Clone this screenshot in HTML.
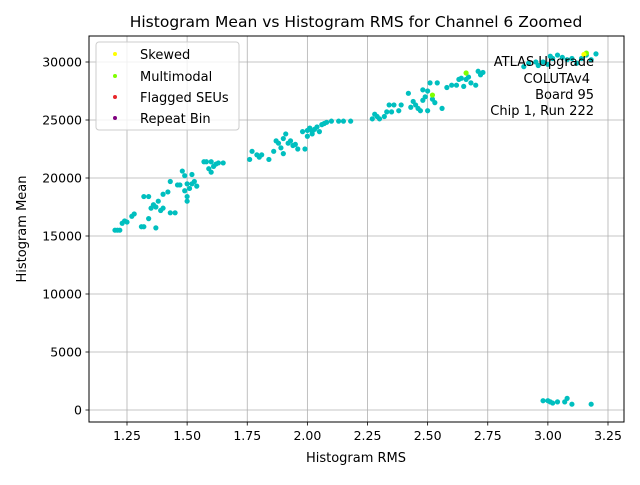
<!DOCTYPE html>
<html><head><meta charset="utf-8"><style>
body{margin:0;background:#fff;}
svg text{font-family:"DejaVu Sans","Liberation Sans",sans-serif;fill:#000;}
</style></head><body>
<svg id="chart" width="640" height="480" xmlns="http://www.w3.org/2000/svg">
<rect width="640" height="480" fill="#fff"/>
<text x="356" y="27" font-size="15.5" text-anchor="middle">Histogram Mean vs Histogram RMS for Channel 6 Zoomed</text>
<g id="grid"></g>
<g id="pts"></g>
<rect x="89" y="36" width="535" height="386" fill="none" stroke="#000" stroke-width="1"/>
<g id="ticks"></g>
<text x="356" y="462" font-size="13" text-anchor="middle">Histogram RMS</text>
<text transform="translate(26,229) rotate(-90)" font-size="13" text-anchor="middle">Histogram Mean</text>
<g font-size="13" text-anchor="end">
<text x="594" y="66">ATLAS Upgrade</text>
<text x="590" y="83">COLUTAv4</text>
<text x="594" y="99">Board 95</text>
<text x="594" y="115">Chip 1, Run 222</text>
</g>
<g>
<rect x="96" y="42" width="143" height="88" rx="3" fill="#fff" fill-opacity="0.8" stroke="#ccc"/>
<circle cx="115" cy="54" r="2" fill="#ffff00"/><text x="140" y="59" font-size="13">Skewed</text>
<circle cx="115" cy="76" r="2" fill="#7fff00"/><text x="140" y="81" font-size="13">Multimodal</text>
<circle cx="115" cy="97" r="2" fill="#e8262a"/><text x="140" y="102" font-size="13">Flagged SEUs</text>
<circle cx="115" cy="118" r="2" fill="#800080"/><text x="140" y="123" font-size="13">Repeat Bin</text>
</g>
</svg>
<script>
const xTicks=[1.25,1.5,1.75,2.0,2.25,2.5,2.75,3.0,3.25];
const xTickLabels=["1.25","1.50","1.75","2.00","2.25","2.50","2.75","3.00","3.25"];
const yTicks=[0,5000,10000,15000,20000,25000,30000];
const yTickLabels=["0","5000","10000","15000","20000","25000","30000"];
const rmsValues=[1.20,1.21,1.22,1.23,1.24,1.25,1.27,1.28,1.31,1.32,1.32,1.34,1.34,1.35,1.36,1.37,1.37,1.38,1.39,1.40,1.40,1.42,1.43,1.43,1.45,1.46,1.47,1.48,1.49,1.50,1.50,1.51,1.52,1.52,1.53,1.54,1.57,1.58,1.59,1.60,1.60,1.61,1.62,1.63,1.65,1.49,1.50,
1.76,1.77,1.79,1.80,1.81,1.84,1.86,1.87,1.88,1.89,1.90,1.91,1.90,1.92,1.93,1.94,1.95,1.96,1.98,1.99,2.00,2.00,2.01,2.02,2.02,2.03,2.04,2.05,2.06,2.07,2.08,2.10,2.13,2.15,2.18,
2.27,2.28,2.29,2.30,2.32,2.33,2.34,2.35,2.36,2.38,2.39,2.42,2.43,2.44,2.45,2.46,2.47,2.48,2.48,2.49,2.50,2.50,2.51,2.52,2.53,2.54,2.56,2.58,2.60,2.62,2.63,2.64,2.65,2.66,2.67,2.68,2.71,2.72,2.73,2.70,
2.90,2.92,2.95,2.96,2.98,3.00,3.01,3.02,3.04,3.06,3.08,3.10,3.12,3.14,3.16,3.18,3.20,
2.98,3.00,3.01,3.02,3.04,3.07,3.08,3.10,3.18];
const meanValues=[15500,15500,15500,16100,16300,16200,16700,16900,15800,15800,18400,18400,16500,17400,17700,15700,17500,18000,17200,17400,18600,18800,19700,17000,17000,19400,19400,20600,18900,18400,18000,19100,19500,20300,19700,19300,21400,21400,20800,21400,20500,21000,21200,21300,21300,20200,19500,
21600,22300,22000,21800,22000,21600,22300,23200,23000,22600,23400,23800,22100,23000,23200,22800,22900,22500,24000,22500,23600,24100,24300,23800,24000,24200,24400,24000,24600,24700,24800,24900,24900,24900,24900,
25100,25500,25300,25100,25300,25700,26300,25700,26300,25800,26300,27300,26100,26600,26300,26000,25800,27600,26700,27000,25800,27500,28200,26800,26500,28200,26000,27800,28000,28000,28500,28600,27900,28500,28700,28200,29200,28900,29100,28000,
29600,29900,30000,29700,30000,29800,30500,30300,30600,30400,30200,30300,29900,30300,30600,30200,30700,
800,800,700,600,700,700,1000,500,500];
const multiRms=[2.52,2.66,3.16];
const multiMean=[27150,29050,30770];
const skewRms=[3.15];
const skewMean=[30650];
const NS="http://www.w3.org/2000/svg";
const X0=1.25,XP0=127,XS=240.5,YP0=410,YS=0.0116;
function sx(v){return XP0+(v-X0)*XS;}
function sy(v){return YP0-v*YS;}
const grid=document.getElementById('grid'),ticks=document.getElementById('ticks'),pts=document.getElementById('pts');
function mk(t,a,p){const e=document.createElementNS(NS,t);for(const k in a)e.setAttribute(k,a[k]);p.appendChild(e);return e;}
xTicks.forEach((v,i)=>{const x=sx(v);
const g=mk('line',{x1:x,x2:x,y1:36,y2:422,stroke:'#b0b0b0','stroke-width':0.8},grid);


mk('line',{x1:x,x2:x,y1:422,y2:425.5,stroke:'#000','stroke-width':0.8},ticks);
const t=mk('text',{x:x,y:440,'font-size':12.5,'text-anchor':'middle'},ticks);t.textContent=xTickLabels[i];

});
yTicks.forEach((v,i)=>{const y=sy(v);
const g=mk('line',{x1:89,x2:624,y1:y,y2:y,stroke:'#b0b0b0','stroke-width':0.8},grid);


mk('line',{x1:85.5,x2:89,y1:y,y2:y,stroke:'#000','stroke-width':0.8},ticks);
const t=mk('text',{x:82,y:y+4.5,'font-size':12.5,'text-anchor':'end'},ticks);t.textContent=yTickLabels[i];

});
rmsValues.forEach((v,i)=>{const c=mk('circle',{cx:sx(v),cy:sy(meanValues[i]),r:2.6,fill:'#00bfbf'},pts);

});
multiRms.forEach((v,i)=>{const c=mk('circle',{cx:sx(v),cy:sy(multiMean[i]),r:2.6,fill:'#7fff00'},pts);

});
skewRms.forEach((v,i)=>{const c=mk('circle',{cx:sx(v),cy:sy(skewMean[i]),r:2.6,fill:'#ffff00'},pts);

});
</script>
</body></html>
